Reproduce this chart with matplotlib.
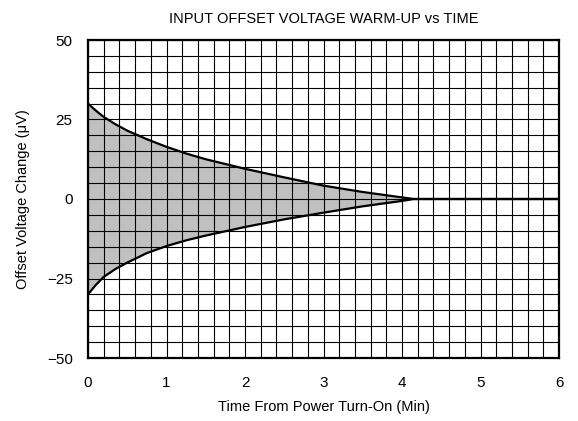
import matplotlib
matplotlib.use("Agg")
import matplotlib.pyplot as plt
import numpy as np
from matplotlib.ticker import MultipleLocator

plt.rcParams["font.family"] = ["Liberation Sans", "DejaVu Sans"]

# Warm-up envelope
time_min = [0.0, 0.1, 0.2, 0.35, 0.5, 0.75, 1.0, 1.25, 1.5, 2.0, 2.5, 3.0, 3.5, 4.0, 4.15, 6.0]
upper_uv = [30.0, 27.8, 25.8, 23.5, 21.5, 18.8, 16.4, 14.3, 12.5, 9.5, 6.8, 4.2, 2.2, 0.5, 0.0, 0.0]
lower_uv = [-30.0, -27.0, -24.5, -22.0, -20.0, -17.0, -14.8, -13.0, -11.5, -8.8, -6.4, -4.3, -2.3, -0.6, 0.0, 0.0]

x_ticks = [0, 1, 2, 3, 4, 5, 6]
y_ticks = [-50, -25, 0, 25, 50]

fig = plt.figure(figsize=(5.78, 4.21), dpi=100)
ax = fig.add_axes([88 / 578, 1 - 358 / 421, 471 / 578, 318 / 421])

ax.fill_between(time_min, lower_uv, upper_uv, color="#c0c0c0", linewidth=0, zorder=1)
ax.plot(time_min, upper_uv, color="black", linewidth=1.6, zorder=3)
ax.plot(time_min, lower_uv, color="black", linewidth=1.6, zorder=3)

ax.set_xlim(0, 6)
ax.set_ylim(-50, 50)
ax.set_xticks(x_ticks)
ax.set_yticks(y_ticks)
ax.xaxis.set_minor_locator(MultipleLocator(0.2))
ax.yaxis.set_minor_locator(MultipleLocator(5))
ax.set_axisbelow(False)
ax.grid(True, which="both", color="black", linewidth=0.8)
ax.tick_params(which="both", length=0, labelsize=11)
ax.tick_params(axis="x", pad=13)
ax.tick_params(axis="y", pad=11)

for s in ax.spines.values():
    s.set_linewidth(1.6)

ax.set_xlabel("Time From Power Turn-On (Min)", fontsize=10.5, labelpad=7)
ax.set_ylabel("Offset Voltage Change (\u03bcV)", fontsize=10.5, labelpad=12)
ax.set_title("INPUT OFFSET VOLTAGE WARM-UP vs TIME", fontsize=10.5, pad=12)

fig.savefig("out.png", dpi=100, facecolor="white")
